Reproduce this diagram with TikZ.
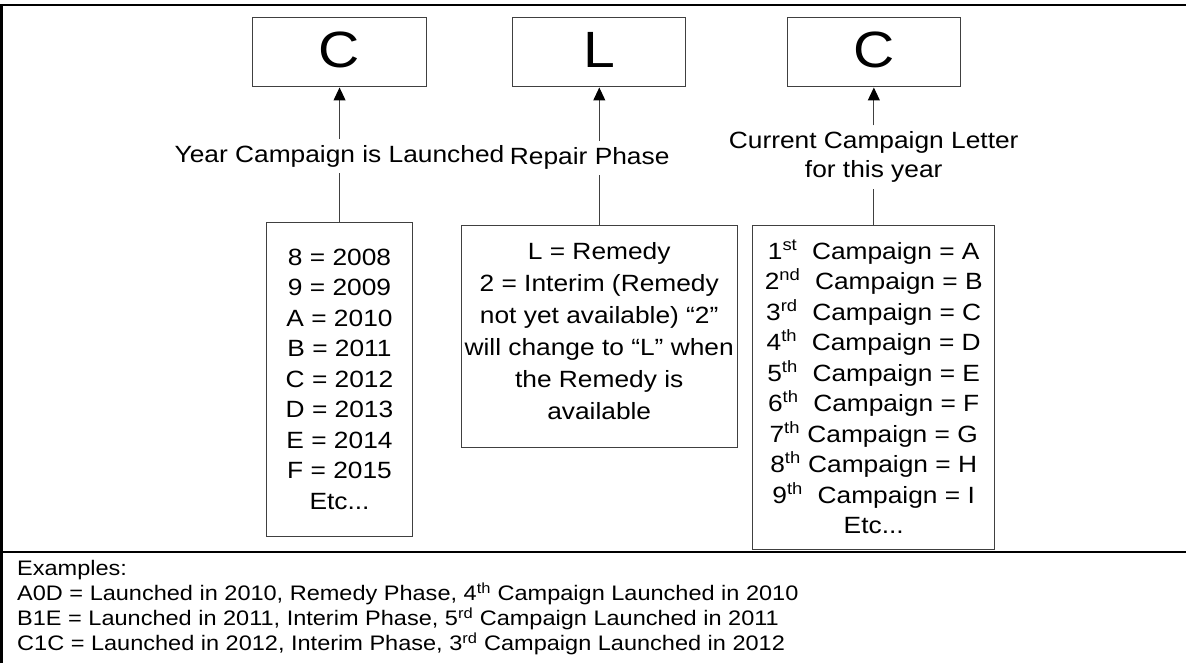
\documentclass[tikz,border=0pt]{standalone}
\usepackage{fontspec}
\setmainfont{Liberation Sans}
\usetikzlibrary{arrows.meta}

\begin{document}
\begin{tikzpicture}[x=0.892857pt, y=-1pt, xscale=1.12, transform shape,
        letterbox/.style={draw=black!75, line width=1pt, minimum width=154.5pt, minimum height=69pt, inner sep=0pt, text depth=5pt, font=\fontsize{51}{51}\selectfont},
        codebox/.style={draw=black!75, line width=1pt, align=center, inner sep=0pt, font=\fontsize{23.5}{30.5}\selectfont},
        tag/.style={align=center, inner xsep=0pt, inner ysep=6pt, font=\fontsize{23.5}{29}\selectfont},
        link/.style={draw=black!75, line width=1pt},
        pointer/.style={link, -{Triangle[length=13pt, width=12pt, color=black]}}]
        \useasboundingbox (0,0) rectangle (1186,663);
        
        % frame and divider
        \draw[line width=2pt] (1.5,663) -- (1.5,5) -- (1186,5);
        \draw[line width=2pt] (1.5,552) -- (1186,552);
        
        % the three code letters
        \node[letterbox] (year) at (339.5,52.5) {C};
        \node[letterbox] (phase) at (599.2,52.5) {L};
        \node[letterbox] (count) at (873.7,52.5) {C};
        
        \node[tag] (yearlbl) at (339.5,156) {Year Campaign is Launched};
        \node[tag] (phaselbl) at (589.7,158) {Repair Phase};
        \node[tag] (countlbl) at (873.7,157) {Current Campaign Letter\\for this year};
        
        \node[codebox, minimum width=130.4pt, minimum height=314pt] (years) at (339.5,379) {8 = 2008\\9 = 2009\\A = 2010\\B = 2011\\C = 2012\\D = 2013\\E = 2014\\F = 2015\\Etc...};
        \node[codebox, minimum width=246.4pt, minimum height=222pt, text depth=10pt, font=\fontsize{23.5}{32}\selectfont] (phases) at (599.2,336) {L = Remedy\\2 = Interim (Remedy\\not yet available) “2”\\will change to “L” when\\the Remedy is\\available};
        \node[codebox, minimum width=216.1pt, minimum height=324pt] (counts) at (873.7,387) {1\textsuperscript{st}\ \ Campaign = A\\2\textsuperscript{nd}\ \ Campaign = B\\3\textsuperscript{rd}\ \ Campaign = C\\4\textsuperscript{th}\ \ Campaign = D\\5\textsuperscript{th}\ \ Campaign = E\\6\textsuperscript{th}\ \ Campaign = F\\7\textsuperscript{th} Campaign = G\\8\textsuperscript{th} Campaign = H\\9\textsuperscript{th}\ \ Campaign = I\\Etc...};
        
        \draw[pointer] (yearlbl.north) -- (year.south);
        \draw[link] (years.north) -- (yearlbl.south);
        \draw[pointer] (phaselbl.north -| phase.south) -- (phase.south);
        \draw[link] (phases.north) -- (phases.north |- phaselbl.south);
        \draw[pointer] (countlbl.north) -- (count.south);
        \draw[link] (counts.north) -- (countlbl.south);
        
        % examples below the divider
        \node[anchor=north west, align=left, inner sep=0pt, font=\fontsize{21}{25}\selectfont] (examples) at (17,560.5) {Examples:\\A0D = Launched in 2010, Remedy Phase, 4\textsuperscript{th} Campaign Launched in 2010\\B1E = Launched in 2011, Interim Phase, 5\textsuperscript{rd} Campaign Launched in 2011\\C1C = Launched in 2012, Interim Phase, 3\textsuperscript{rd} Campaign Launched in 2012};
    \end{tikzpicture}
\end{document}
